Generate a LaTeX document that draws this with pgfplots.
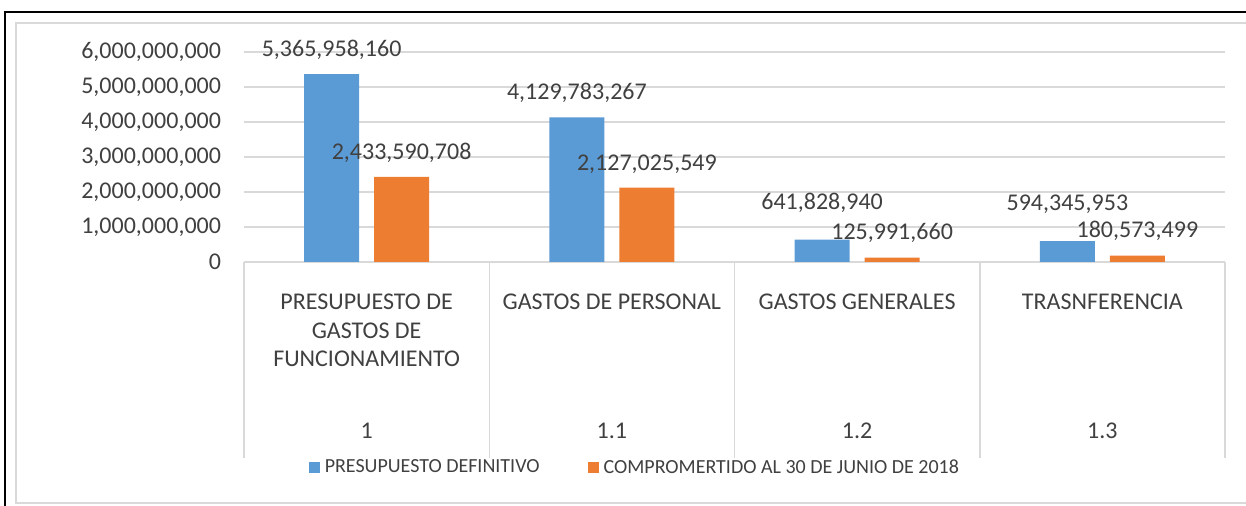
\documentclass[border=0pt]{standalone}
\usepackage{pgfplots}
\pgfplotsset{compat=1.18}
\usepackage{fontspec}
\setmainfont{Carlito}
\definecolor{barblue}{HTML}{5B9BD5}
\definecolor{barorange}{HTML}{ED7D31}
\definecolor{txt}{HTML}{404040}
\definecolor{gridgray}{HTML}{D9D9D9}
\pgfplotsset{sqlegend/.style={legend image code/.code={\fill[##1] (0pt,-2.75pt) rectangle (5.5pt,2.75pt);}}}

\begin{document}
\begin{tikzpicture}[x=1pt,y=1pt]
\useasboundingbox (0,0) rectangle (623,253);
% outer frames
\draw[line width=1pt] (2.5,0) -- (2.5,247) -- (623,247);
\draw[gridgray, line width=0.75pt] (623,1.5) -- (8,1.5) -- (8,241.5) -- (623,241.5);
\begin{axis}[
  ybar=7.5pt, bar width=27.5pt,
  at={(122pt,122pt)}, anchor=south west,
  scale only axis, width=490.5pt, height=105pt,
  xmin=-0.5, xmax=3.5, ymin=0, ymax=6e9,
  clip=false,
  axis line style={draw=none},
  xtick=\empty,
  scaled y ticks=false,
  ytick={0,1e9,2e9,3e9,4e9,5e9,6e9},
  yticklabels={0,{1,000,000,000},{2,000,000,000},{3,000,000,000},{4,000,000,000},{5,000,000,000},{6,000,000,000}},
  ytick style={draw=none},
  yticklabel style={font=\fontsize{12}{14}\selectfont, text=txt, xshift=-8pt},
  ymajorgrids, grid style={gridgray, line width=0.75pt},
  nodes near coords, point meta=explicit symbolic,
  visualization depends on={\thisrow{dy} \as \dy},
  every node near coord/.append style={anchor=base, yshift=\dy pt, inner sep=0pt,
    font=\fontsize{12}{14}\selectfont, text=txt},
  legend style={at={(0.4,-0.981)}, anchor=center, draw=none, fill=none,
    font=\fontsize{10}{12}\selectfont, text=txt, legend columns=2,
    nodes={inner xsep=2.5pt, inner ysep=0pt},
    /tikz/every even column/.append style={column sep=21.5pt}},
]
\addplot[fill=barblue, draw=none, sqlegend]
  table[meta=label] {
x y label dy
0 5365958160 5,365,958,160 8.75
1 4129783267 4,129,783,267 8.75
2 641828940 641,828,940 15.25
3 594345953 594,345,953 15.5
};
\addplot[fill=barorange, draw=none, sqlegend]
  table[meta=label] {
x y label dy
0 2433590708 2,433,590,708 8.75
1 2127025549 2,127,025,549 8.75
2 125991660 125,991,660 9.1
3 180573499 180,573,499 9.1
};
\legend{PRESUPUESTO DEFINITIVO, COMPROMERTIDO AL 30 DE JUNIO DE 2018}
% category box
\draw[gridgray, line width=0.75pt] (axis cs:-0.5,0) -- ([yshift=-98pt]axis cs:-0.5,0);
\draw[gridgray, line width=0.75pt] (axis cs:0.5,0) -- ([yshift=-98pt]axis cs:0.5,0);
\draw[gridgray, line width=0.75pt] (axis cs:1.5,0) -- ([yshift=-98pt]axis cs:1.5,0);
\draw[gridgray, line width=0.75pt] (axis cs:2.5,0) -- ([yshift=-98pt]axis cs:2.5,0);
\draw[gridgray, line width=0.75pt] (axis cs:3.5,0) -- ([yshift=-98pt]axis cs:3.5,0);
\tikzset{catlab/.style={font=\fontsize{12}{14.2}\selectfont, text=txt, align=center, anchor=north, inner sep=0pt}}
\node[catlab, yshift=-16pt] at (axis cs:0,0) {PRESUPUESTO DE\\GASTOS DE\\FUNCIONAMIENTO};
\node[catlab, yshift=-16pt] at (axis cs:1,0) {GASTOS DE PERSONAL};
\node[catlab, yshift=-16pt] at (axis cs:2,0) {GASTOS GENERALES};
\node[catlab, yshift=-16pt] at (axis cs:3,0) {TRASNFERENCIA};
\node[catlab, yshift=-80.2pt] at (axis cs:0,0) {1};
\node[catlab, yshift=-80.2pt] at (axis cs:1,0) {1.1};
\node[catlab, yshift=-80.2pt] at (axis cs:2,0) {1.2};
\node[catlab, yshift=-80.2pt] at (axis cs:3,0) {1.3};
\end{axis}
\end{tikzpicture}
\end{document}
